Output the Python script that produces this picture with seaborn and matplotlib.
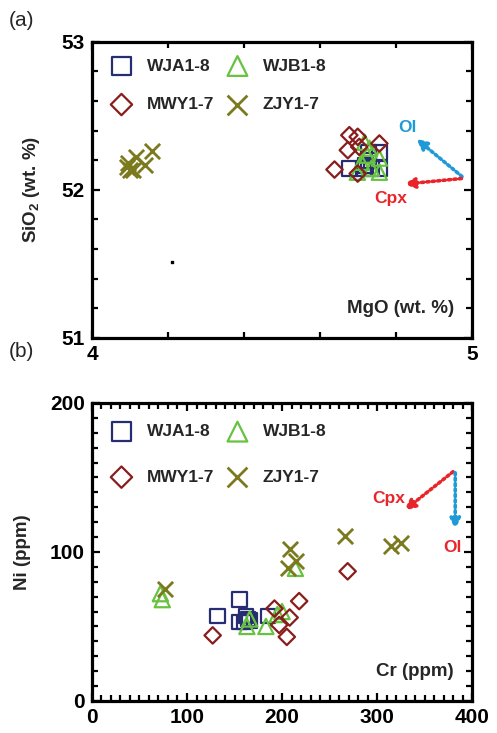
import matplotlib
matplotlib.use("Agg")
import matplotlib.pyplot as plt
import seaborn as sns
import numpy as np
from matplotlib.ticker import MultipleLocator

# ---- data: panel (a) MgO vs SiO2 ----
wja_mgo = [4.677, 4.714, 4.727, 4.727, 4.756, 4.756, 4.735, 4.719]
wja_sio2 = [52.146, 52.146, 52.200, 52.254, 52.254, 52.146, 52.146, 52.166]
wjb_mgo = [4.717, 4.698, 4.756, 4.724, 4.735, 4.756, 4.709, 4.730]
wjb_sio2 = [52.322, 52.119, 52.214, 52.234, 52.146, 52.119, 52.186, 52.281]
mwy_mgo = [4.677, 4.699, 4.673, 4.703, 4.756, 4.638, 4.699]
mwy_sio2 = [52.369, 52.358, 52.268, 52.290, 52.313, 52.137, 52.110]
zjy_mgo = [4.091, 4.100, 4.117, 4.139, 4.157, 4.095, 4.108]
zjy_sio2 = [52.155, 52.132, 52.222, 52.166, 52.263, 52.178, 52.132]
stray_mgo = [4.21]
stray_sio2 = [51.51]

# ---- data: panel (b) Cr vs Ni ----
wja_cr = [132, 155, 155, 160, 162, 164, 166, 185]
wja_ni = [57, 68, 53, 53, 57, 55, 54, 57]
wjb_cr = [72, 74, 163, 166, 183, 195, 200, 214]
wjb_ni = [72, 68, 50, 55, 50, 58, 60, 89]
mwy_cr = [127, 192, 197, 208, 205, 218, 269]
mwy_ni = [44, 62, 51, 56, 43, 67, 87]
zjy_cr = [77, 208, 215, 206, 266, 315, 325]
zjy_ni = [75, 102, 94, 89, 111, 104, 106]

groups = ["WJA1-8", "WJB1-8", "MWY1-7", "ZJY1-7"]
colors = {"WJA1-8": "#262d72", "WJB1-8": "#66c23f", "MWY1-7": "#8a1c1c", "ZJY1-7": "#7b7a1e"}
markers = {"WJA1-8": "s", "WJB1-8": "^", "MWY1-7": "D", "ZJY1-7": "x"}
legend_order = ["WJA1-8", "MWY1-7", "WJB1-8", "ZJY1-7"]  # column-wise fill -> rows WJA/WJB, MWY/ZJY

sns.set_theme(style="white")
plt.rcParams["font.family"] = ["Liberation Sans", "DejaVu Sans"]
plt.rcParams["mathtext.fontset"] = "custom"
plt.rcParams["mathtext.rm"] = "Liberation Sans:bold"
plt.rcParams["mathtext.bf"] = "Liberation Sans:bold"

fig = plt.figure(figsize=(4.97, 7.33), dpi=100)
ax1 = fig.add_axes([0.185, 0.539, 0.765, 0.404])
ax2 = fig.add_axes([0.185, 0.0437, 0.765, 0.4066])


def draw(ax, data):
    for g in groups:
        x, y = data[g]
        c = colors[g]
        m = markers[g]
        size = {"s": 110, "^": 120, "D": 70, "x": 120}[m]
        if m == "x":
            sns.scatterplot(x=x, y=y, marker=m, color=c, s=size, linewidth=2.0, ax=ax, label=g)
        else:
            sns.scatterplot(x=x, y=y, marker=m, color=c, facecolor="none", edgecolor=c,
                            s=size, linewidth=1.6, ax=ax, label=g)


def style(ax, spacing, anchor_y):
    for sp in ax.spines.values():
        sp.set_linewidth(2.3)
        sp.set_color("black")
    ax.tick_params(which="both", direction="in", top=True, right=True, bottom=True, left=True,
                   width=1.6, colors="black", labelsize=15, pad=5)
    ax.tick_params(which="major", length=6)
    ax.tick_params(which="minor", length=4)
    for lab in ax.get_xticklabels() + ax.get_yticklabels():
        lab.set_fontweight("bold")
    ax.set_xlabel("")
    ax.set_ylabel("")
    h, l = ax.get_legend_handles_labels()
    lookup = dict(zip(l, h))
    ax.legend([lookup[g] for g in legend_order], legend_order,
              loc="upper left", ncol=2, frameon=False, markerscale=1.3,
              prop={"weight": "bold", "size": 12.5}, labelspacing=spacing,
              columnspacing=0.35, handletextpad=0.45, borderaxespad=0.3,
              bbox_to_anchor=(0.0, anchor_y))


arr = dict(arrowstyle="-|>", linestyle=(0, (0.6, 0.9)), linewidth=2.6, mutation_scale=15)

# panel (a)
draw(ax1, {"WJA1-8": (wja_mgo, wja_sio2), "WJB1-8": (wjb_mgo, wjb_sio2),
           "MWY1-7": (mwy_mgo, mwy_sio2), "ZJY1-7": (zjy_mgo, zjy_sio2)})
ax1.scatter(stray_mgo, stray_sio2, marker="s", s=4, color="black")
ax1.set_xlim(4, 5)
ax1.set_ylim(51, 53)
ax1.xaxis.set_major_locator(MultipleLocator(1))
ax1.xaxis.set_minor_locator(MultipleLocator(0.2))
ax1.yaxis.set_major_locator(MultipleLocator(1))
ax1.yaxis.set_minor_locator(MultipleLocator(0.2))
style(ax1, 1.35, 0.985)
ax1.text(4.953, 51.2, "MgO (wt. %)", ha="right", va="center", fontsize=13.5, fontweight="bold")
fig.text(0.063, 0.5 * (0.539 * 2 + 0.404), r"SiO$_\mathbf{2}$ (wt. %)", rotation=90,
         ha="center", va="center", fontsize=13.5, fontweight="bold")
ax1.annotate("", xy=(4.848, 52.356), xytext=(4.979, 52.078),
             arrowprops=dict(arr, color="#1e9bd7"))
ax1.annotate("", xy=(4.814, 52.037), xytext=(4.979, 52.078),
             arrowprops=dict(arr, color="#e8262a"))
ax1.text(4.829, 52.424, "Ol", color="#1e9bd7", fontsize=12.5, fontweight="bold", ha="center", va="center")
ax1.text(4.787, 51.942, "Cpx", color="#e8262a", fontsize=12.5, fontweight="bold", ha="center", va="center")
fig.text(0.018, 0.972, "(a)", fontsize=15, ha="left", va="center")

# panel (b)
draw(ax2, {"WJA1-8": (wja_cr, wja_ni), "WJB1-8": (wjb_cr, wjb_ni),
           "MWY1-7": (mwy_cr, mwy_ni), "ZJY1-7": (zjy_cr, zjy_ni)})
ax2.set_xlim(0, 400)
ax2.set_ylim(0, 200)
ax2.xaxis.set_major_locator(MultipleLocator(100))
ax2.xaxis.set_minor_locator(MultipleLocator(10))
ax2.yaxis.set_major_locator(MultipleLocator(100))
ax2.yaxis.set_minor_locator(MultipleLocator(10))
style(ax2, 1.75, 0.97)
ax2.text(381, 19.5, "Cr (ppm)", ha="right", va="center", fontsize=13.5, fontweight="bold")
fig.text(0.045, 0.0437 + 0.4066 / 2, "Ni (ppm)", rotation=90,
         ha="center", va="center", fontsize=13.5, fontweight="bold")
ax2.annotate("", xy=(326.5, 126.8), xytext=(382.2, 155),
             arrowprops=dict(arr, color="#e8262a"))
ax2.annotate("", xy=(382.2, 113.4), xytext=(382.2, 155),
             arrowprops=dict(arr, color="#1e9bd7"))
ax2.text(312, 136, "Cpx", color="#e8262a", fontsize=12.5, fontweight="bold", ha="center", va="center")
ax2.text(379, 102.7, "Ol", color="#e8262a", fontsize=12.5, fontweight="bold", ha="center", va="center")
fig.text(0.018, 0.52, "(b)", fontsize=15, ha="left", va="center")

fig.savefig("out.png", dpi=100)
